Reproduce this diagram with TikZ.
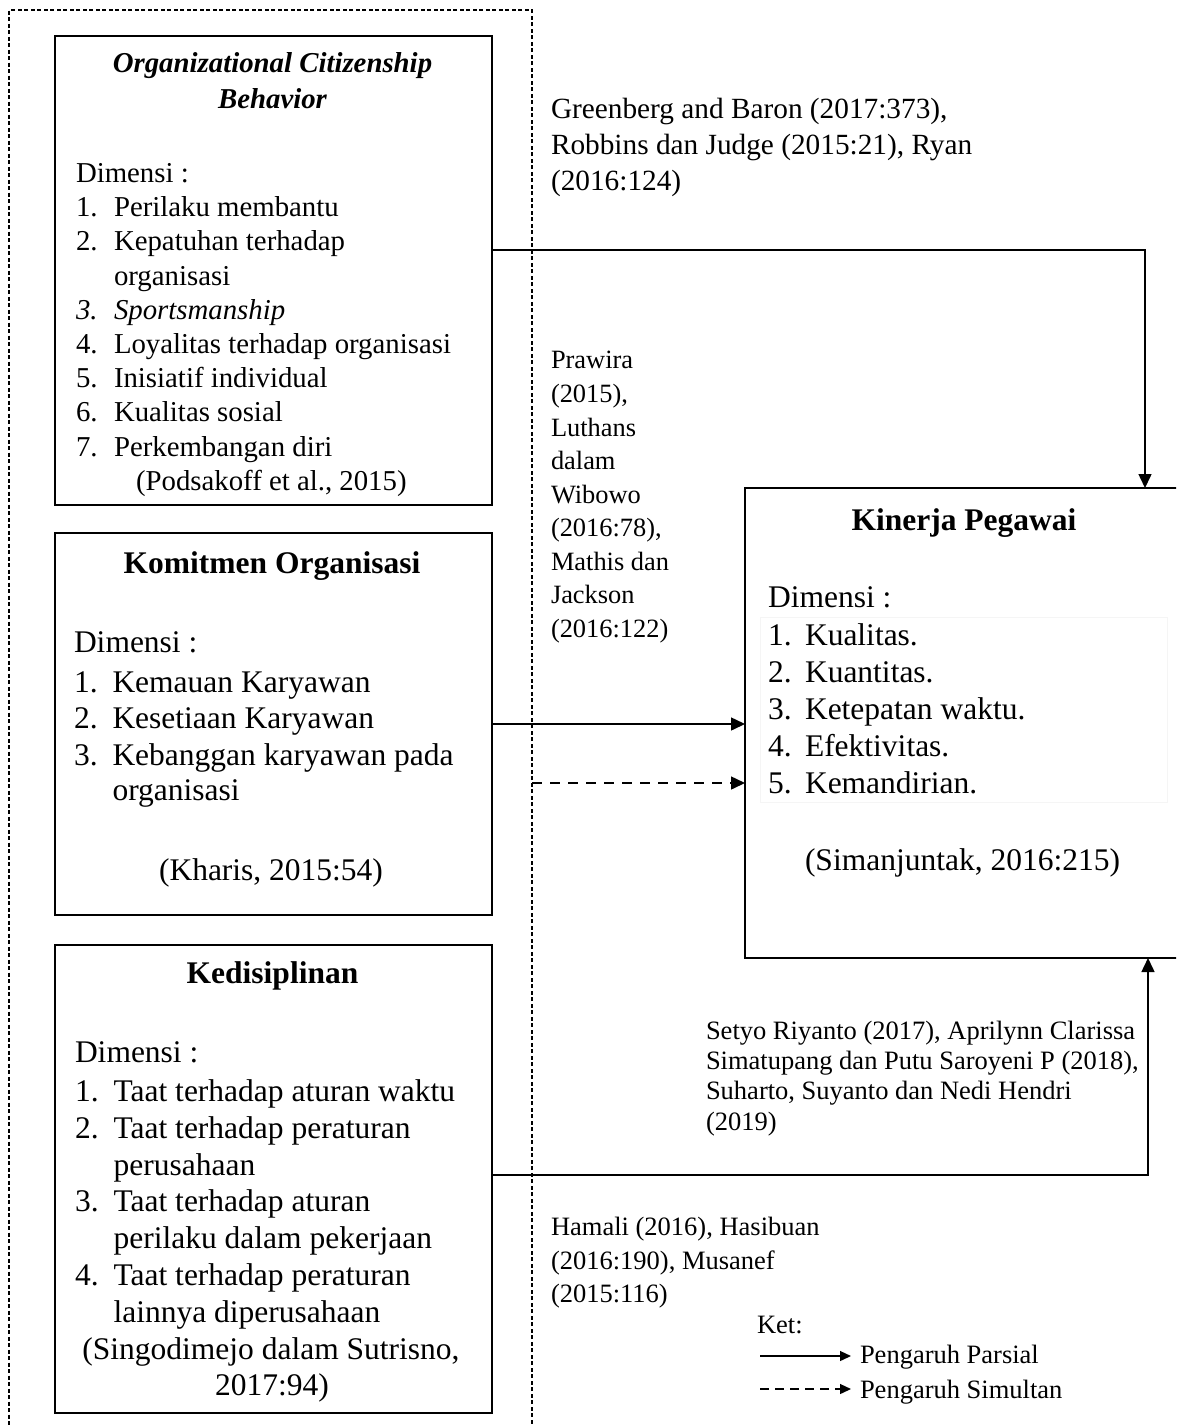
\documentclass[tikz,border=0pt]{standalone}
\usepackage{fontspec}
\setmainfont{Liberation Serif}
\usetikzlibrary{arrows.meta}
\newcommand\Ln[5][]{\node[txt,#1] (#2) at (#3,#4) {#5};}
\tikzset{
  box/.style={draw, rectangle, line width=1.6pt, inner sep=0pt, outer sep=0pt},
  txt/.style={anchor=base west, inner sep=0pt, outer sep=0pt},
  ctr/.style={anchor=base},
  fB/.style={font=\fontsize{31.5}{37}\selectfont},
  fO/.style={font=\fontsize{28.8}{34}\selectfont},
  fG/.style={font=\fontsize{29.3}{36}\selectfont},
  fS/.style={font=\fontsize{26.5}{33}\selectfont},
  conn/.style={line width=1.5pt, -{Triangle[length=14pt,width=13pt]}},
  legarrow/.style={line width=1.3pt, -{Triangle[length=11pt,width=10pt]}},
}
\begin{document}
\begin{tikzpicture}[x=1pt,y=-1pt]
\useasboundingbox (0,0) rectangle (1176,1425);
\fill[white] (0,0) rectangle (1176,1425);
\clip (0,0) rectangle (1176,1425);

% outer dashed frame (open at bottom)
\node[draw, rectangle, dash pattern=on 4pt off 2.5pt, line width=1.3pt, inner sep=0pt, outer sep=0pt,
      minimum width=523pt, minimum height=1430pt] (frame) at (270.5,725) {};

% boxes
\node[box, minimum width=437pt, minimum height=469pt] (ocb) at (273.5,270.5) {};
\node[box, minimum width=437pt, minimum height=382pt] (kom) at (273.5,724) {};
\node[box, minimum width=437pt, minimum height=468pt] (dis) at (273.5,1179) {};
\node[box, minimum width=441pt, minimum height=470pt] (kin) at (965.5,723) {};
\node[draw=black!4, line width=0.6pt, rectangle, inner sep=0pt, minimum width=407pt, minimum height=185pt] (kinlist) at (963.5,709.5) {};

% OCB text
\Ln[ctr,font=\fontsize{28.8}{34}\selectfont\bfseries\itshape]{o0}{272.5}{72}{Organizational Citizenship}
\Ln[ctr,font=\fontsize{28.8}{34}\selectfont\bfseries\itshape]{o00}{272.5}{108}{Behavior}
\Ln[fO]{o1}{76}{182}{Dimensi :}
\Ln[fO]{o2n}{76}{216}{1.}  \Ln[fO]{o2}{114}{216}{Perilaku membantu}
\Ln[fO]{o3n}{76}{250}{2.}  \Ln[fO]{o3}{114}{250}{Kepatuhan terhadap}
\Ln[fO]{o4}{114}{285}{organisasi}
\Ln[fO]{o5n}{76}{319}{\itshape 3.}  \Ln[fO]{o5}{114}{319}{\itshape Sportsmanship}
\Ln[fO]{o6n}{76}{353}{4.}  \Ln[fO]{o6}{114}{353}{Loyalitas terhadap organisasi}
\Ln[fO]{o7n}{76}{387}{5.}  \Ln[fO]{o7}{114}{387}{Inisiatif individual}
\Ln[fO]{o8n}{76}{421}{6.}  \Ln[fO]{o8}{114}{421}{Kualitas sosial}
\Ln[fO]{o9n}{76}{456}{7.}  \Ln[fO]{o9}{114}{456}{Perkembangan diri}
\Ln[fO]{o10}{136}{490}{(Podsakoff et al., 2015)}

% Komitmen text
\Ln[ctr,font=\fontsize{31.5}{37}\selectfont\bfseries]{k0}{272}{573}{Komitmen Organisasi}
\Ln[fB]{k1}{74}{652}{Dimensi :}
\Ln[fB]{k2n}{74}{692}{1.}  \Ln[fB]{k2}{112.5}{692}{Kemauan Karyawan}
\Ln[fB]{k3n}{74}{728}{2.}  \Ln[fB]{k3}{112.5}{728}{Kesetiaan Karyawan}
\Ln[fB]{k4n}{74}{765}{3.}  \Ln[fB]{k4}{112.5}{765}{Kebanggan karyawan pada}
\Ln[fB]{k5}{112.5}{800}{organisasi}
\Ln[fB,ctr]{k6}{271}{880}{(Kharis, 2015:54)}

% Kedisiplinan text
\Ln[ctr,font=\fontsize{31.5}{37}\selectfont\bfseries]{d0}{272.5}{983}{Kedisiplinan}
\Ln[fB]{d1}{75}{1062}{Dimensi :}
\Ln[fB]{d2n}{75}{1101}{1.}  \Ln[fB]{d2}{113.6}{1101}{Taat terhadap aturan waktu}
\Ln[fB]{d3n}{75}{1138}{2.}  \Ln[fB]{d3}{113.6}{1138}{Taat terhadap peraturan}
\Ln[fB]{d4}{113.6}{1175}{perusahaan}
\Ln[fB]{d5n}{75}{1211}{3.}  \Ln[fB]{d5}{113.6}{1211}{Taat terhadap aturan}
\Ln[fB]{d6}{113.6}{1248}{perilaku dalam pekerjaan}
\Ln[fB]{d7n}{75}{1285}{4.}  \Ln[fB]{d7}{113.6}{1285}{Taat terhadap peraturan}
\Ln[fB]{d8}{113.6}{1322}{lainnya diperusahaan}
\Ln[fB,ctr]{d9}{271}{1359}{(Singodimejo dalam Sutrisno,}
\Ln[fB,ctr]{d10}{272}{1395}{2017:94)}

% Kinerja text
\Ln[ctr,font=\fontsize{31.5}{37}\selectfont\bfseries]{p0}{964}{530}{Kinerja Pegawai}
\Ln[fB]{p1}{768}{607}{Dimensi :}
\Ln[fB]{p2n}{768}{645}{1.}  \Ln[fB]{p2}{805}{645}{Kualitas.}
\Ln[fB]{p3n}{768}{682}{2.}  \Ln[fB]{p3}{805}{682}{Kuantitas.}
\Ln[fB]{p4n}{768}{719}{3.}  \Ln[fB]{p4}{805}{719}{Ketepatan waktu.}
\Ln[fB]{p5n}{768}{756}{4.}  \Ln[fB]{p5}{805}{756}{Efektivitas.}
\Ln[fB]{p6n}{768}{793}{5.}  \Ln[fB]{p6}{805}{793}{Kemandirian.}
\Ln[fB]{p7}{805}{870}{(Simanjuntak, 2016:215)}

% reference labels
\Ln[fG]{g1}{551}{118}{Greenberg and Baron (2017:373),}
\Ln[fG]{g2}{551}{154}{Robbins dan Judge (2015:21), Ryan}
\Ln[fG]{g3}{551}{190}{(2016:124)}

\Ln[font=\fontsize{26.4}{33}\selectfont]{r1}{551}{368}{Prawira}
\Ln[font=\fontsize{26.4}{33}\selectfont]{r2}{551}{402}{(2015),}
\Ln[font=\fontsize{26.4}{33}\selectfont]{r3}{551}{436}{Luthans}
\Ln[font=\fontsize{26.4}{33}\selectfont]{r4}{551}{469}{dalam}
\Ln[font=\fontsize{26.4}{33}\selectfont]{r5}{551}{503}{Wibowo}
\Ln[font=\fontsize{26.4}{33}\selectfont]{r6}{551}{536}{(2016:78),}
\Ln[font=\fontsize{26.4}{33}\selectfont]{r7}{551}{570}{Mathis dan}
\Ln[font=\fontsize{26.4}{33}\selectfont]{r8}{551}{603}{Jackson}
\Ln[font=\fontsize{26.4}{33}\selectfont]{r9}{551}{637}{(2016:122)}

\Ln[fS]{s1}{706}{1039}{Setyo Riyanto (2017), Aprilynn Clarissa}
\Ln[fS]{s2}{706}{1069}{Simatupang dan Putu Saroyeni P (2018),}
\Ln[fS]{s3}{706}{1099}{Suharto, Suyanto dan Nedi Hendri}
\Ln[fS]{s4}{706}{1130}{(2019)}

\Ln[fS]{h1}{551}{1235}{Hamali (2016), Hasibuan}
\Ln[fS]{h2}{551}{1269}{(2016:190), Musanef}
\Ln[fS]{h3}{551}{1302}{(2015:116)}

% legend
\Ln[fS]{ket}{757}{1333}{Ket:}
\Ln[fS]{leg1}{860}{1363}{Pengaruh Parsial}
\Ln[fS]{leg2}{860}{1398}{Pengaruh Simultan}
\coordinate (lg1) at (760,1356);
\coordinate (lg2) at (760,1389);
\coordinate (lg1e) at ([xshift=-9pt]leg1.west);
\coordinate (lg2e) at ([xshift=-9pt]leg2.west);
\draw[legarrow] (lg1) -- (lg1 -| lg1e);
\draw[legarrow, dash pattern=on 9pt off 6pt] (lg2) -- (lg2 -| lg2e);

% connectors
\draw[conn] ([yshift=20.5pt]ocb.east) -| ([xshift=179.5pt]kin.north);
\draw[conn] (kom.east) -- (kom.east -| kin.west);
\coordinate (simstart) at (532,783);
\draw[conn, dash pattern=on 10pt off 8pt] (simstart) -- (simstart -| kin.west);
\draw[conn] ([yshift=4pt]dis.east) -| ([xshift=182.5pt]kin.south);
\end{tikzpicture}
\end{document}
